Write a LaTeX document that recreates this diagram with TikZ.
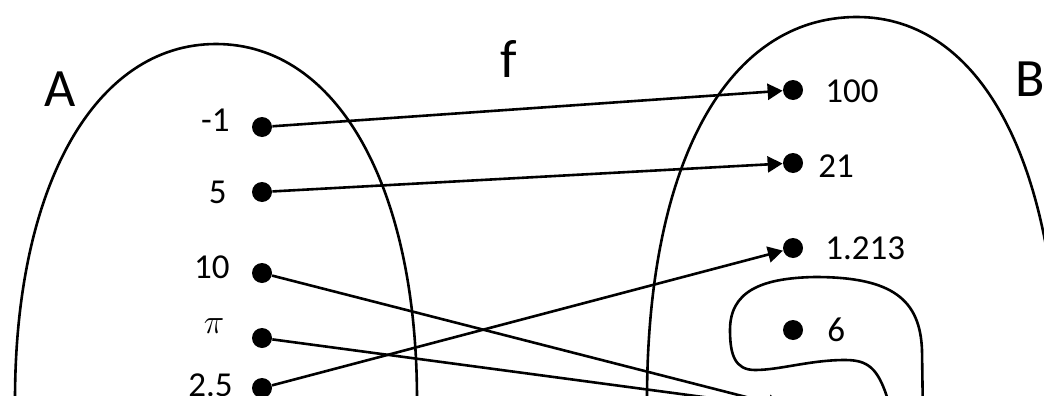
\documentclass[tikz,border=0pt]{standalone}
\usepackage{fontspec}
\setmainfont{Carlito}
\usetikzlibrary{arrows.meta}
\begin{document}
\begin{tikzpicture}[x=0.5pt,y=-0.5pt,
  dot/.style={circle,fill=black,inner sep=0pt,minimum size=10pt},
  num/.style={inner sep=0pt,font=\fontsize{17.5}{20}\selectfont},
  big/.style={inner sep=0pt,font=\fontsize{27}{30}\selectfont},
  curve/.style={line width=1.3pt},
  map/.style={line width=1.3pt,-{Triangle[length=7.5pt,width=8pt]}}]
\useasboundingbox (0,0) rectangle (1044,396);
\clip (0,0) rectangle (1044,396);
% set A
\draw[curve] (15,460) -- (15,400)
  .. controls (15,186) and (95,44) .. (216,44)
  .. controls (337,44) and (417,186) .. (417,400) -- (417,460);
% set B
\draw[curve] (647,460) -- (647,400)
  .. controls (647,163) and (727,17) .. (857,17)
  .. controls (981,17) and (1059,163) .. (1059,400) -- (1059,460);
% inner region
\draw[curve] (888,400) .. controls (878,368) and (868,360) .. (845,360)
  .. controls (810,360) and (780,370) .. (755,370)
  .. controls (735,370) and (730,355) .. (730,330)
  .. controls (730,292) and (760,278) .. (815,277)
  .. controls (893,277) and (920,300) .. (922,350) -- (923,420);
% labels
\node[big] (lA) at (60,89) {A};
\node[big] (lf) at (509,59) {f};
\node[big] (lB) at (1030,79) {B};
% domain
\node[dot] (a1) at (262,127) {};
\node[dot] (a2) at (262,192) {};
\node[dot] (a3) at (262,273) {};
\node[dot] (a4) at (262,338) {};
\node[dot] (a5) at (262,388) {};
\node[num,anchor=east] (ta1) at (230,120) {-1};
\node[num,anchor=east] (ta2) at (227,192) {5};
\node[num,anchor=east] (ta3) at (230,267) {10};
\node[num] (ta4) at (214,326) {$\pi$};
\node[num,anchor=east] (ta5) at (233,385) {2.5};
% codomain
\node[dot] (b1) at (793,90) {};
\node[dot] (b2) at (793,163) {};
\node[dot] (b3) at (793,248) {};
\node[dot] (b4) at (793,330) {};
\node[dot] (b5) at (793,409) {};
\node[num,anchor=west] (tb1) at (825,91) {100};
\node[num,anchor=west] (tb2) at (818,166) {21};
\node[num,anchor=west] (tb3) at (825,248) {1.213};
\node[num,anchor=west] (tb4) at (827,330) {6};
% mapping
\draw[map] (a1) -- (b1);
\draw[map] (a2) -- (b2);
\draw[map] (a5) -- (b3);
\draw[map] (a3) -- (b5);
\draw[map] (a4) -- (b5);
\end{tikzpicture}
\end{document}
